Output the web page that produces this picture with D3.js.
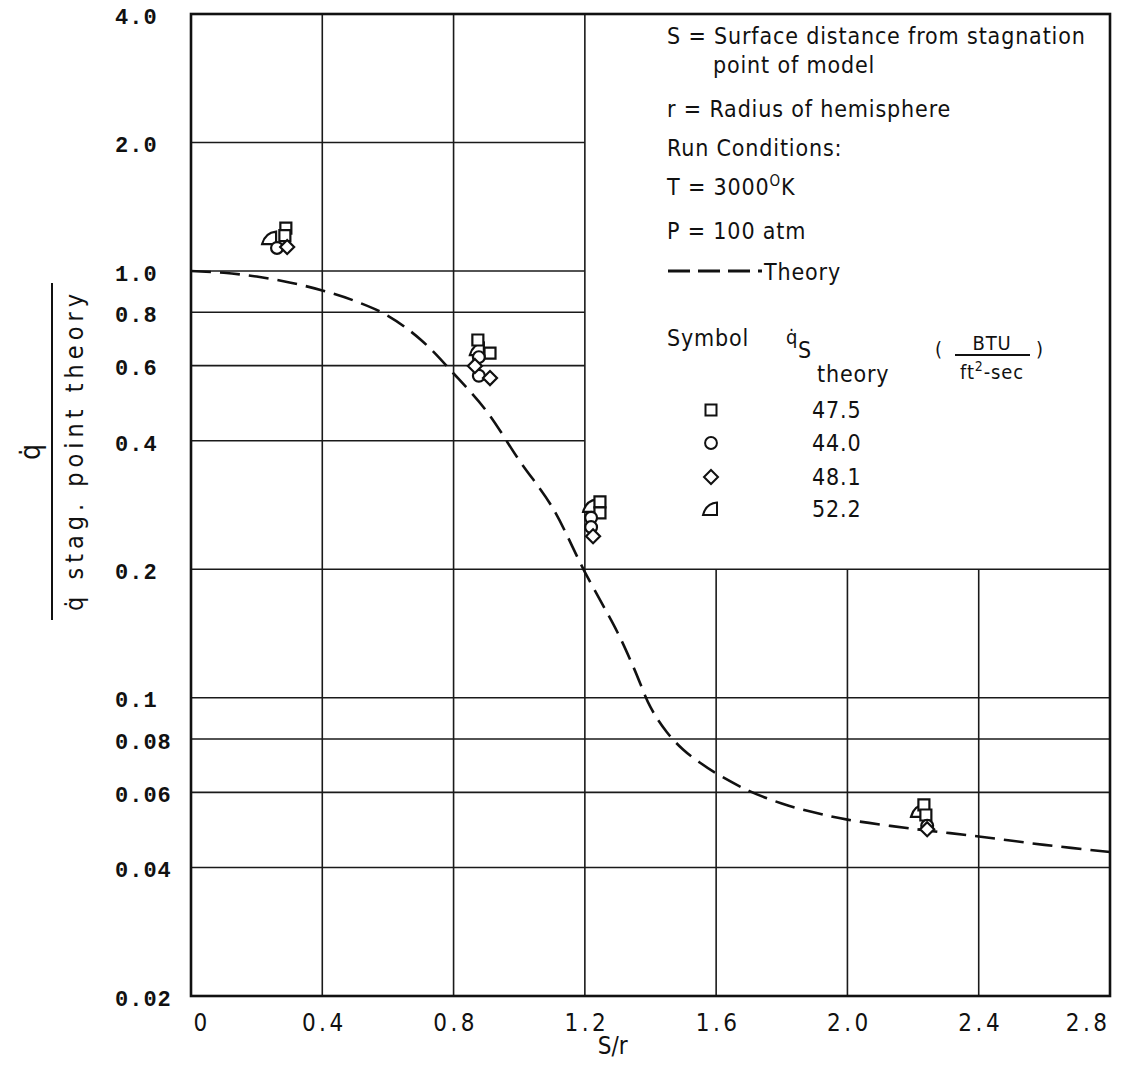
<!DOCTYPE html>
<html>
<head>
<meta charset="utf-8">
<script src="https://cdn.jsdelivr.net/npm/d3@7"></script>
<style>
  body { margin: 0; background: #fff; }
  svg { display: block; }
  .lbl { font-family: 'DejaVu Sans Condensed', 'DejaVu Sans', sans-serif; fill: #111; }
  .ytk { font-family: 'Liberation Mono', 'DejaVu Sans Mono', monospace; fill: #111; }
</style>
</head>
<body>
<svg id="chart" width="1136" height="1066"></svg>
<script>
// Axis ticks
const xTicks = [0, 0.4, 0.8, 1.2, 1.6, 2.0, 2.4, 2.8];
const xTickLabels = ['0', '0.4', '0.8', '1.2', '1.6', '2.0', '2.4', '2.8'];
const yTicks = [4.0, 2.0, 1.0, 0.8, 0.6, 0.4, 0.2, 0.1, 0.08, 0.06, 0.04, 0.02];
const yTickLabels = ['4.0', '2.0', '1.0', '0.8', '0.6', '0.4', '0.2', '0.1', '0.08', '0.06', '0.04', '0.02'];

// Theory curve
const theoryS = [0, 0.1, 0.2, 0.3, 0.4, 0.5, 0.6, 0.7, 0.8, 0.9, 1.0, 1.1, 1.2, 1.3, 1.35, 1.4, 1.45, 1.5, 1.55, 1.6, 1.7, 1.8, 1.9, 2.0, 2.2, 2.4, 2.6, 2.8];
const theoryQ = [1.0, 0.99, 0.97, 0.94, 0.90, 0.85, 0.785, 0.69, 0.575, 0.47, 0.36, 0.28, 0.197, 0.142, 0.117, 0.095, 0.083, 0.0755, 0.0705, 0.0665, 0.0605, 0.0565, 0.0538, 0.0518, 0.0493, 0.0473, 0.0452, 0.0435];

// Measured points per symbol
const squareS = [0.289, 0.286, 0.874, 0.911, 1.246, 1.246, 2.233, 2.239];
const squareQ = [1.26, 1.21, 0.689, 0.642, 0.2875, 0.271, 0.0561, 0.0531];
const circleS = [0.262, 0.877, 0.877, 1.219, 1.219, 2.243];
const circleQ = [1.132, 0.628, 0.568, 0.264, 0.251, 0.0501];
const diamondS = [0.293, 0.865, 0.911, 1.225, 2.243];
const diamondQ = [1.138, 0.599, 0.561, 0.239, 0.0492];
const triangleS = [0.241, 0.874, 1.219, 2.218];
const triangleQ = [1.194, 0.656, 0.2815, 0.0543];

// Legend
const legendSymbols = ['square', 'circle', 'diamond', 'triangle'];
const legendValues = ['47.5', '44.0', '48.1', '52.2'];

const svg = d3.select('#chart');
const plotLeft = 191, plotRight = 1110, plotTop = 14, plotBottom = 996;

const x = d3.scaleLinear().domain([0, 2.8]).range([plotLeft, plotRight]);
const y = d3.scaleLog().domain([0.02, 4.0]).range([plotBottom, plotTop]);

// Grid: the upper-right corner holds the legend, so lines stop there
const grid = svg.append('g').attr('stroke', '#1a1a1a').attr('stroke-width', 1.6);
yTicks.filter(v => v > 0.02 && v < 4.0).forEach(v => {
    grid.append('line')
        .attr('x1', plotLeft).attr('x2', v > 0.2 ? x(1.2) : plotRight)
        .attr('y1', y(v)).attr('y2', y(v));
});
xTicks.filter(v => v > 0 && v < 2.8).forEach(v => {
    grid.append('line')
        .attr('x1', x(v)).attr('x2', x(v))
        .attr('y1', plotBottom).attr('y2', v > 1.2 ? y(0.2) : plotTop);
});

// Frame
svg.append('rect')
    .attr('x', plotLeft).attr('y', plotTop)
    .attr('width', plotRight - plotLeft).attr('height', plotBottom - plotTop)
    .attr('fill', 'none').attr('stroke', '#111').attr('stroke-width', 2.6);

// Tick labels
const xAxis = d3.axisBottom(x).tickValues(xTicks).tickSize(0)
    .tickFormat((d, i) => xTickLabels[i]);
const gx = svg.append('g').attr('transform', `translate(0,${plotBottom})`).call(xAxis);
gx.select('.domain').remove();
gx.selectAll('text')
    .attr('class', 'lbl').attr('font-size', 24).attr('dy', null).attr('y', 35)
    .attr('letter-spacing', 3.5)
    .attr('text-anchor', (d, i) => i === 0 ? 'start' : (i === xTicks.length - 1 ? 'end' : 'middle'))
    .attr('dx', (d, i) => i === 0 ? 2 : (i === xTicks.length - 1 ? 0 : 1.5));

const yAxis = d3.axisLeft(y).tickValues(yTicks).tickSize(0)
    .tickFormat((d, i) => yTickLabels[i]);
const gy = svg.append('g').attr('transform', `translate(${plotLeft},0)`).call(yAxis);
gy.select('.domain').remove();
gy.selectAll('text')
    .attr('class', 'ytk').attr('font-size', 22).attr('font-weight', 'bold')
    .attr('text-anchor', 'start').attr('x', 115 - plotLeft).attr('dy', '0.42em')
    .attr('letter-spacing', 1);

// Axis titles
svg.append('text').attr('class', 'lbl').attr('font-size', 24)
    .attr('x', x(1.285)).attr('y', 1054).attr('text-anchor', 'middle').text('S/r');

const yTitle = svg.append('g');
yTitle.append('text').attr('class', 'lbl').attr('font-size', 28)
    .attr('transform', 'translate(40,452) rotate(-90)')
    .attr('text-anchor', 'middle').text('q\u0307');
yTitle.append('line').attr('x1', 52).attr('x2', 52).attr('y1', 283).attr('y2', 620)
    .attr('stroke', '#111').attr('stroke-width', 2);
yTitle.append('text').attr('class', 'lbl').attr('font-size', 25)
    .attr('transform', 'translate(83,450) rotate(-90)')
    .attr('text-anchor', 'middle').attr('letter-spacing', 5)
    .text('q\u0307 stag. point theory');

// Theory curve
const line = d3.line().x(d => x(d[0])).y(d => y(d[1])).curve(d3.curveCatmullRom.alpha(0.5));
svg.append('path')
    .datum(theoryS.map((s, i) => [s, theoryQ[i]]))
    .attr('d', line)
    .attr('fill', 'none').attr('stroke', '#111').attr('stroke-width', 2.6)
    .attr('stroke-dasharray', '20,9');

// Symbols
function symbolPath(kind) {
    if (kind === 'square') return 'M-5.5,-5.5H5.5V5.5H-5.5Z';
    if (kind === 'circle') return d3.symbol(d3.symbolCircle, 110)();
    if (kind === 'diamond') return 'M0,-7L7,0L0,7L-7,0Z';
    return 'M-8,6L6,6L6,-6.5Q-5,-5.5 -8,6Z';
}

function drawPoints(kind, sVals, qVals) {
    svg.append('g').selectAll('path')
        .data(sVals.map((s, i) => [s, qVals[i]]))
        .join('path')
        .attr('transform', d => `translate(${x(d[0])},${y(d[1])})`)
        .attr('d', symbolPath(kind))
        .attr('fill', '#fff').attr('stroke', '#111').attr('stroke-width', 2.2);
}
drawPoints('triangle', triangleS, triangleQ);
drawPoints('square', squareS, squareQ);
drawPoints('circle', circleS, circleQ);
drawPoints('diamond', diamondS, diamondQ);

// Legend text
const lg = svg.append('g').attr('class', 'lbl').attr('font-size', 23).attr('letter-spacing', 0.85);
lg.append('text').attr('x', 667).attr('y', 44).text('S = Surface distance from stagnation');
lg.append('text').attr('x', 713).attr('y', 73).text('point of model');
lg.append('text').attr('x', 667).attr('y', 117).text('r = Radius of hemisphere');
lg.append('text').attr('x', 667).attr('y', 156).text('Run Conditions:');
const tLine = lg.append('text').attr('x', 667).attr('y', 195);
tLine.append('tspan').text('T = 3000');
tLine.append('tspan').attr('font-size', 15).attr('dy', -9).text('O');
tLine.append('tspan').attr('dy', 9).text('K');
lg.append('text').attr('x', 667).attr('y', 239).text('P = 100 atm');
lg.append('line').attr('x1', 668).attr('x2', 762).attr('y1', 271).attr('y2', 271)
    .attr('stroke', '#111').attr('stroke-width', 2.8).attr('stroke-dasharray', '22,8');
lg.append('text').attr('x', 764).attr('y', 280).text('Theory');

lg.append('text').attr('x', 667).attr('y', 346).text('Symbol');
lg.append('text').attr('x', 786).attr('y', 344).attr('font-size', 20).text('q\u0307');
lg.append('text').attr('x', 798).attr('y', 358).text('S');
lg.append('text').attr('x', 817).attr('y', 382).text('theory');
lg.append('text').attr('x', 935).attr('y', 356).attr('font-size', 20).text('(');
lg.append('text').attr('x', 992).attr('y', 350).attr('text-anchor', 'middle').attr('font-size', 20).text('BTU');
lg.append('line').attr('x1', 955).attr('x2', 1030).attr('y1', 355).attr('y2', 355)
    .attr('stroke', '#111').attr('stroke-width', 1.8);
const unitDen = lg.append('text').attr('x', 992).attr('y', 379).attr('text-anchor', 'middle').attr('font-size', 20);
unitDen.append('tspan').text('ft');
unitDen.append('tspan').attr('font-size', 14).attr('dy', -8).text('2');
unitDen.append('tspan').attr('dy', 8).text('-sec');
lg.append('text').attr('x', 1036).attr('y', 356).attr('font-size', 20).text(')');

const rowY = [410, 443, 477, 509];
legendSymbols.forEach((kind, i) => {
    svg.append('path')
        .attr('transform', `translate(711,${rowY[i]})`)
        .attr('d', symbolPath(kind))
        .attr('fill', '#fff').attr('stroke', '#111').attr('stroke-width', 2);
    lg.append('text').attr('x', 812).attr('y', rowY[i] + 8).text(legendValues[i]);
});
</script>
</body>
</html>
